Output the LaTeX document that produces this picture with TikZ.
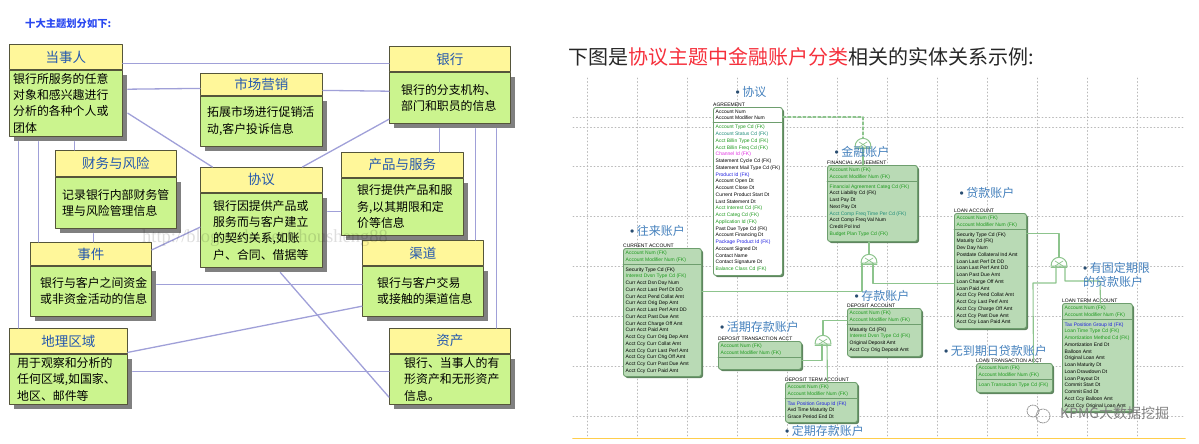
\documentclass[tikz,border=0pt]{standalone}
\usepackage{fontspec}
\setmainfont{Noto Sans CJK SC}
\newfontfamily\rowfont{Liberation Sans}
\newfontfamily\markfont{Liberation Serif}
\usetikzlibrary{shadows}
\definecolor{headfill}{HTML}{FFF79A}
\definecolor{bodyfill}{HTML}{CBF48E}
\definecolor{boxedge}{HTML}{55553A}
\definecolor{boxshade}{HTML}{808080}
\definecolor{linkblue}{HTML}{A0A0D8}
\definecolor{headtext}{HTML}{2458AE}
\definecolor{entfill}{HTML}{B9DAB5}
\definecolor{entedge}{HTML}{6E9E6E}
\definecolor{entshade}{HTML}{5F855F}
\definecolor{erline}{HTML}{8DC48D}
\definecolor{fkgreen}{HTML}{1E9A1E}
\definecolor{fkteal}{HTML}{1E8C78}
\definecolor{fkblue}{HTML}{2020E0}
\definecolor{fkpink}{HTML}{E030E0}
\definecolor{hdgblue}{HTML}{4480BC}
\definecolor{titlered}{HTML}{F5303C}
\definecolor{titleblue}{HTML}{2A48F0}
\newcommand{\fkg}[1]{\textcolor{fkgreen}{#1}}
\newcommand{\fkt}[1]{\textcolor{fkteal}{#1}}
\newcommand{\fkb}[1]{\textcolor{fkblue}{#1}}
\newcommand{\fkp}[1]{\textcolor{fkpink}{#1}}
\newcommand{\hdgdot}{\textcolor{hdgblue!60!black}{\rowfont\textbullet}\hspace{2.5pt}}
\tikzset{
  boxhead/.style={draw=boxedge,line width=0.8pt,fill=headfill,anchor=north west,inner sep=0pt,text=headtext,font=\fontsize{13.5}{15}\selectfont},
  boxbody/.style={draw=boxedge,line width=0.8pt,fill=bodyfill,anchor=north west,inner sep=0pt,drop shadow={shadow xshift=5pt,shadow yshift=-5pt,fill=boxshade,opacity=1}},
  boxtext/.style={anchor=west,align=left,inner sep=0pt,font=\fontsize{11.9}{16.4}\selectfont},
  linkline/.style={draw=linkblue,line width=1.3pt},
  gridline/.style={draw=black!28,line width=0.9pt,dash pattern=on 1pt off 2.5pt},
  entbox/.style={draw=entedge,line width=0.9pt,fill=entfill,anchor=north west,inner sep=0pt,rounded corners=2.5pt,drop shadow={shadow xshift=1.6pt,shadow yshift=-1.6pt,fill=entshade,opacity=1}},
  entrow/.style={anchor=north west,align=left,inner xsep=2.5pt,inner ysep=2.5pt,font=\rowfont\fontsize{5}{6.75}\selectfont},
  entlabel/.style={anchor=south west,inner xsep=0pt,inner ysep=0.6pt,font=\rowfont\fontsize{5}{6}\selectfont},
  entsep/.style={draw=entedge,line width=0.8pt},
  erlink/.style={draw=erline,line width=1.1pt},
  hdg/.style={anchor=west,align=left,inner sep=0pt,text=hdgblue,font=\fontsize{12}{14}\selectfont},
  subtype/.pic={
    \draw[draw=erline,line width=1pt,fill=white] (-8,0) .. controls (-8,-11.5) and (8,-11.5) .. (8,0) -- cycle;
    \draw[draw=erline,line width=0.7pt] (-4,-5) -- (4,0) (4,-5) -- (-4,0);
    \draw[draw=erline,line width=0.8pt] (-8,1.5) -- (8,1.5);
  }
}
\begin{document}
\begin{tikzpicture}[line cap=round,line join=round,x=1pt,y=-1pt]
  \useasboundingbox (0,0) rectangle (1199,444);
  % titles
  \node[anchor=west,inner sep=0pt,text=titleblue,font=\bfseries\fontsize{10.3}{12}\selectfont] (leftTitle) at (25,24) {十大主题划分如下:};
  \node[anchor=west,inner sep=0pt,text=black!85,font=\fontsize{20}{24}\selectfont] (rightTitle) at (568,57) {下图是\textcolor{titlered}{协议主题中金融账户分类}相关的实体关系示例:};
  % left: the ten subject areas
  \node[boxhead,minimum width=113pt,minimum height=25pt] (partyHead) at (9,44) {当事人};
  \node[boxbody,minimum width=113pt,minimum height=66pt] (partyBody) at (partyHead.south west) {};
  \node[boxtext,xshift=4pt] (partyText) at (partyBody.west) {银行所服务的任意\\对象和感兴趣进行\\分析的各种个人或\\团体};
  \node[boxhead,minimum width=122pt,minimum height=22pt] (marketHead) at (200,73) {市场营销};
  \node[boxbody,minimum width=122pt,minimum height=50pt] (marketBody) at (marketHead.south west) {};
  \node[boxtext,xshift=7pt] (marketText) at (marketBody.west) {拓展市场进行促销活\\动,客户投诉信息};
  \node[boxhead,minimum width=121pt,minimum height=25pt] (bankHead) at (389,46) {银行};
  \node[boxbody,minimum width=121pt,minimum height=51pt] (bankBody) at (bankHead.south west) {};
  \node[boxtext,xshift=12pt] (bankText) at (bankBody.west) {银行的分支机构、\\部门和职员的信息};
  \node[boxhead,minimum width=121pt,minimum height=26pt] (riskHead) at (55,150) {财务与风险};
  \node[boxbody,minimum width=121pt,minimum height=51pt] (riskBody) at (riskHead.south west) {};
  \node[boxtext,xshift=7pt] (riskText) at (riskBody.west) {记录银行内部财务管\\理与风险管理信息};
  \node[boxhead,minimum width=122pt,minimum height=25pt] (dealHead) at (200,167) {协议};
  \node[boxbody,minimum width=122pt,minimum height=74pt] (dealBody) at (dealHead.south west) {};
  \node[boxtext,xshift=13pt] (dealText) at (dealBody.west) {银行因提供产品或\\服务而与客户建立\\的契约关系,如账\\户、合同、借据等};
  \node[boxhead,minimum width=122pt,minimum height=25pt] (prodHead) at (341,152) {产品与服务};
  \node[boxbody,minimum width=122pt,minimum height=57pt] (prodBody) at (prodHead.south west) {};
  \node[boxtext,xshift=16pt] (prodText) at (prodBody.west) {银行提供产品和服\\务,以其期限和定\\价等信息};
  \node[boxhead,minimum width=121pt,minimum height=23pt] (eventHead) at (30,242) {事件};
  \node[boxbody,minimum width=121pt,minimum height=50pt] (eventBody) at (eventHead.south west) {};
  \node[boxtext,xshift=10pt] (eventText) at (eventBody.west) {银行与客户之间资金\\或非资金活动的信息};
  \node[boxhead,minimum width=121pt,minimum height=25pt] (chanHead) at (362,240) {渠道};
  \node[boxbody,minimum width=121pt,minimum height=50pt] (chanBody) at (chanHead.south west) {};
  \node[boxtext,xshift=15pt] (chanText) at (chanBody.west) {银行与客户交易\\或接触的渠道信息};
  \node[boxhead,minimum width=118pt,minimum height=25pt] (geoHead) at (9,328) {地理区域};
  \node[boxbody,minimum width=118pt,minimum height=50pt] (geoBody) at (geoHead.south west) {};
  \node[boxtext,xshift=8pt] (geoText) at (geoBody.west) {用于观察和分析的\\任何区域,如国家、\\地区、邮件等};
  \node[boxhead,minimum width=121pt,minimum height=25pt] (assetHead) at (389,328) {资产};
  \node[boxbody,minimum width=121pt,minimum height=50pt] (assetBody) at (assetHead.south west) {};
  \node[boxtext,xshift=15pt] (assetText) at (assetBody.west) {银行、当事人的有\\形资产和无形资产\\信息。};
  % left: links between the areas
  \draw[linkline] ([yshift=-6.5pt]partyHead.east) -- ([yshift=-4.5pt]bankHead.west);
  \draw[linkline] ([xshift=5pt,yshift=14pt]partyBody.east) -- ([yshift=-4pt]marketHead.west);
  \draw[linkline] ([yshift=-6pt]marketHead.east) -- ([yshift=6.5pt]bankBody.west);
  \draw[linkline] ([xshift=5pt,yshift=-10pt]partyBody.east) -- ([xshift=-49pt]dealHead.north);
  \draw[linkline] ([yshift=-21.5pt]bankBody.west) -- ([xshift=41pt]dealHead.north);
  \draw[linkline] ([xshift=-47.5pt,yshift=-5pt]partyBody.south) -- ([xshift=-50pt]geoHead.north);
  \draw[linkline] ([xshift=-27.5pt,yshift=-5pt]partyBody.south) -- ([xshift=-52.5pt]eventHead.north);
  \draw[linkline] ([xshift=8.5pt,yshift=-5pt]partyBody.south) -- ([xshift=-41.5pt]riskHead.north);
  \draw[linkline] ([xshift=-22.5pt,yshift=-5pt]riskBody.south) -- ([xshift=2.5pt]eventHead.north);
  \draw[linkline] ([xshift=-10.5pt,yshift=-5pt]bankBody.south) -- ([xshift=37pt]prodHead.north);
  \draw[linkline] ([xshift=25.5pt,yshift=-5pt]bankBody.south) -- ([xshift=52.5pt]chanHead.north);
  \draw[linkline] ([xshift=46.5pt,yshift=-5pt]bankBody.south) -- ([xshift=46.5pt]assetHead.north);
  \draw[linkline] ([xshift=5pt,yshift=19pt]dealBody.east) -- ([yshift=-4.5pt]prodBody.west);
  \draw[linkline] ([yshift=4pt]eventHead.east) -- ([yshift=3pt]dealBody.west);
  \draw[linkline] ([xshift=5pt,yshift=7pt]eventBody.east) -- ([yshift=7pt]chanBody.west);
  \draw[linkline] ([yshift=-11.5pt]geoHead.east) -- ([yshift=-15pt]chanBody.west);
  \draw[linkline] ([xshift=5pt,yshift=8pt]geoBody.east) -- ([yshift=8pt]assetBody.west);
  \draw[linkline] ([xshift=19pt,yshift=-5pt]dealBody.south) -- ([yshift=-18pt]assetBody.west);
  % blog mark, faint, over the boxes
  \node[anchor=west,inner sep=0pt,text=black,text opacity=0.13,font=\markfont\fontsize{18.5}{20}\selectfont] (blogMark) at (142,238) {http://blog.csdn.net/zhousheng88};
  % right: dotted grid
  \foreach \gx in {587,637,...,1137} \draw[gridline] (\gx,78) -- (\gx,437);
  \foreach \gy in {117,127,166,216,266,316,366,416} \draw[gridline] (573,\gy) -- (1185,\gy);
  \draw[draw=orange!55!yellow!70,line width=1.6pt] (573,438.5) -- (1185,438.5);
  % right: entities
  \node[entbox,fill=white,minimum width=69pt,minimum height=168pt] (agreeBox) at (713,107) {};
  \node[entlabel] (agreeName) at (agreeBox.north west) {AGREEMENT};
  \node[entrow] (agreeKeys) at (agreeBox.north west) {Account Num\\Account Modifier Num};
  \draw[entsep] (agreeKeys.south -| agreeBox.west) -- (agreeKeys.south -| agreeBox.east);
  \node[entrow] (agreeRows) at (agreeKeys.south west) {\fkg{Account Type Cd (FK)}\\\fkt{Account Status Cd (FK)}\\\fkg{Acct Billin Type Cd (FK)}\\\fkg{Acct Billin Freq Cd (FK)}\\\fkp{Channel Id (FK)}\\Statement Cycle Cd (FK)\\Statement Mail Type Cd (FK)\\\fkb{Product Id (FK)}\\Account Open Dt\\Account Close Dt\\Current Product Start Dt\\Last Statement Dt\\\fkg{Acct Interest Cd (FK)}\\\fkg{Acct Categ Cd (FK)}\\\fkg{Application Id (FK)}\\Past Due Type Cd (FK)\\Account Financing Dt\\\fkb{Package Product Id (FK)}\\Account Signed Dt\\Contact Name\\Contact Signature Dt\\\fkg{Balance Class Cd (FK)}};
  \node[entbox,minimum width=90pt,minimum height=76pt] (finBox) at (827,165) {};
  \node[entlabel] (finName) at (finBox.north west) {FINANCIAL AGREEMENT};
  \node[entrow] (finKeys) at (finBox.north west) {\fkg{Account Num (FK)}\\\fkg{Account Modifier Num (FK)}};
  \draw[entsep] (finKeys.south -| finBox.west) -- (finKeys.south -| finBox.east);
  \node[entrow] (finRows) at (finKeys.south west) {\fkg{Financial Agreement Categ Cd (FK)}\\Acct Liability Cd (FK)\\Last Pay Dt\\Next Pay Dt\\\fkt{Acct Comp Freq Time Per Cd (FK)}\\Acct Comp Freq Val Num\\Credit Pol Ind\\\fkg{Budget Plan Type Cd (FK)}};
  \node[entbox,minimum width=78pt,minimum height=128pt] (curBox) at (623,248) {};
  \node[entlabel] (curName) at (curBox.north west) {CURRENT ACCOUNT};
  \node[entrow] (curKeys) at (curBox.north west) {\fkg{Account Num (FK)}\\\fkg{Account Modifier Num (FK)}};
  \draw[entsep] (curKeys.south -| curBox.west) -- (curKeys.south -| curBox.east);
  \node[entrow] (curRows) at (curKeys.south west) {Security Type Cd (FK)\\\fkg{Interest Dvsn Type Cd (FK)}\\Curr Acct Dsn Day Num\\Curr Acct Last Perf Dt DD\\Curr Acct Pend Collat Amt\\Curr Acct Orig Dep Amt\\Curr Acct Last Perf Amt DD\\Curr Acct Past Due Amt\\Curr Acct Charge Off Amt\\Curr Acct Paid Amt\\Acct Ccy Curr Orig Dep Amt\\Acct Ccy Curr Collat Amt\\Acct Ccy Curr Last Perf Amt\\Acct Ccy Curr Chg Off Amt\\Acct Ccy Curr Past Due Amt\\Acct Ccy Curr Paid Amt};
  \node[entbox,minimum width=74pt,minimum height=48pt] (depBox) at (847,308) {};
  \node[entlabel] (depName) at (depBox.north west) {DEPOSIT ACCOUNT};
  \node[entrow] (depKeys) at (depBox.north west) {\fkg{Account Num (FK)}\\\fkg{Account Modifier Num (FK)}};
  \draw[entsep] (depKeys.south -| depBox.west) -- (depKeys.south -| depBox.east);
  \node[entrow] (depRows) at (depKeys.south west) {Maturity Cd (FK)\\\fkg{Interest Dvsn Type Cd (FK)}\\Original Deposit Amt\\Acct Ccy Orig Deposit Amt};
  \node[entbox,minimum width=83pt,minimum height=28pt] (dtrBox) at (718,341) {};
  \node[entlabel] (dtrName) at (dtrBox.north west) {DEPOSIT TRANSACTION ACCT};
  \node[entrow] (dtrKeys) at (dtrBox.north west) {\fkg{Account Num (FK)}\\\fkg{Account Modifier Num (FK)}};
  \draw[entsep] (dtrKeys.south -| dtrBox.west) -- (dtrKeys.south -| dtrBox.east);
  \node[entbox,minimum width=72pt,minimum height=40pt] (dtmBox) at (785,382) {};
  \node[entlabel] (dtmName) at (dtmBox.north west) {DEPOSIT TERM ACCOUNT};
  \node[entrow] (dtmKeys) at (dtmBox.north west) {\fkg{Account Num (FK)}\\\fkg{Account Modifier Num (FK)}};
  \draw[entsep] (dtmKeys.south -| dtmBox.west) -- (dtmKeys.south -| dtmBox.east);
  \node[entrow] (dtmRows) at (dtmKeys.south west) {\fkb{Tax Position Group Id (FK)}\\Avd Time Maturity Dt\\Grace Period End Dt};
  \node[entbox,minimum width=72pt,minimum height=115pt] (loanBox) at (954,213) {};
  \node[entlabel] (loanName) at (loanBox.north west) {LOAN ACCOUNT};
  \node[entrow] (loanKeys) at (loanBox.north west) {\fkg{Account Num (FK)}\\\fkg{Account Modifier Num (FK)}};
  \draw[entsep] (loanKeys.south -| loanBox.west) -- (loanKeys.south -| loanBox.east);
  \node[entrow] (loanRows) at (loanKeys.south west) {Security Type Cd (FK)\\Maturity Cd (FK)\\Dev Day Num\\Postdate Collateral Ind Amt\\Loan Last Perf Dt DD\\Loan Last Perf Amt DD\\Loan Past Due Amt\\Loan Charge Off Amt\\Loan Paid Amt\\Acct Ccy Pend Collat Amt\\Acct Ccy Last Perf Amt\\Acct Ccy Charge Off Amt\\Acct Ccy Past Due Amt\\Acct Ccy Loan Paid Amt};
  \node[entbox,minimum width=76pt,minimum height=29pt] (ltrBox) at (976,363) {};
  \node[entlabel] (ltrName) at (ltrBox.north west) {LOAN TRANSACTION ACCT};
  \node[entrow] (ltrKeys) at (ltrBox.north west) {\fkg{Account Num (FK)}\\\fkg{Account Modifier Num (FK)}};
  \draw[entsep] (ltrKeys.south -| ltrBox.west) -- (ltrKeys.south -| ltrBox.east);
  \node[entrow] (ltrRows) at (ltrKeys.south west) {\fkg{Loan Transaction Type Cd (FK)}};
  \node[entbox,minimum width=70pt,minimum height=108pt] (ltmBox) at (1062,303) {};
  \node[entlabel] (ltmName) at (ltmBox.north west) {LOAN TERM ACCOUNT};
  \node[entrow] (ltmKeys) at (ltmBox.north west) {\fkg{Account Num (FK)}\\\fkg{Account Modifier Num (FK)}};
  \draw[entsep] (ltmKeys.south -| ltmBox.west) -- (ltmKeys.south -| ltmBox.east);
  \node[entrow] (ltmRows) at (ltmKeys.south west) {\fkb{Tax Position Group Id (FK)}\\\fkg{Loan Time Type Cd (FK)}\\\fkg{Amortization Method Cd (FK)}\\Amortization End Dt\\Balloon Amt\\Original Loan Amt\\Loan Maturity Dt\\Loan Drawdown Dt\\Loan Payout Dt\\Commit Start Dt\\Commit End Dt\\Acct Ccy Balloon Amt\\Acct Ccy Original Loan Amt};
  % right: subtype marks and their lines
  \coordinate (subA) at (863,147);
  \coordinate (subB) at (869,263);
  \coordinate (subC) at (823,344);
  \coordinate (subD) at (1059,266);
  \coordinate (jogD) at (1033,283);
  \coordinate (jogE) at (1100,281);
  \draw[erlink,densely dashed] ([yshift=-10pt]agreeBox.north east) -| ([yshift=8pt]subA);
  \draw[erlink] (subA) -- (subA |- finBox.north);
  \draw[erlink] (finBox.south -| subB) -- ([yshift=8pt]subB);
  \draw[erlink] ([yshift=21pt]curBox.east) -| ([xshift=-7pt]subB);
  \draw[erlink] ([xshift=4pt]subB) |- ([yshift=-12.5pt]loanBox.west);
  \draw[erlink] ([yshift=12pt]depBox.west) -| ([yshift=8pt]subC);
  \draw[erlink] ([yshift=-5pt]dtrBox.east) -| ([xshift=-1pt]subC);
  \draw[erlink] ([xshift=4pt]subC) -- ([xshift=6pt]dtmBox.north);
  \draw[erlink] ([yshift=37.5pt]loanBox.east) -| ([yshift=8pt]subD);
  \draw[erlink] ([xshift=-3pt]subD) |- (jogD) -- ([xshift=19pt]ltrBox.north);
  \draw[erlink] ([xshift=6pt]subD) |- (jogE) -- ([xshift=3pt]ltmBox.north);
  \pic at (subA) {subtype};
  \pic at (subB) {subtype};
  \pic at (subC) {subtype};
  \pic at (subD) {subtype};
  % right: headings
  \node[hdg] (agreeHdg) at (735.5,92) {\hdgdot 协议};
  \node[hdg] (finHdg) at (834.5,152) {\hdgdot 金融账户};
  \node[hdg] (loanHdg) at (959.5,193) {\hdgdot 贷款账户};
  \node[hdg] (curHdg) at (630,231) {\hdgdot 往来账户};
  \node[hdg] (depHdg) at (854.5,296) {\hdgdot 存款账户};
  \node[hdg] (dtrHdg) at (720,327) {\hdgdot 活期存款账户};
  \node[hdg] (ltrHdg) at (944,351) {\hdgdot 无到期日贷款账户};
  \node[hdg] (dtmHdg) at (785,431) {\hdgdot 定期存款账户};
  \node[hdg] (ltmHdg) at (1083,275) {\hdgdot 有固定期限\\的贷款账户};
  % wechat mark
  \draw[draw=black!45,line width=0.8pt,densely dotted] (1033,411) circle (6);
  \draw[draw=black!45,line width=0.8pt,densely dotted] (1043,416) circle (7);
  \node[anchor=west,inner sep=0pt,text=black!50,font=\fontsize{14}{16}\selectfont] (wechatMark) at (1060,413) {KPMG大数据挖掘};
\end{tikzpicture}
\end{document}
